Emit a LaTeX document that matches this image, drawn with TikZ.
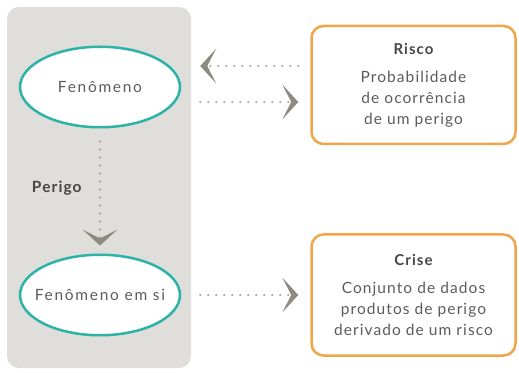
\documentclass[tikz,border=0pt]{standalone}
\usepackage{fontspec}
\setmainfont{Lato}[LetterSpace=7]
\newfontfamily\ovalfont{Lato}[LetterSpace=11]
\usetikzlibrary{arrows.meta,shapes.geometric}

\begin{document}
\begin{tikzpicture}[x=1pt, y=1pt,
    oval/.style={ellipse, draw=tab_teal, line width=2.5pt, fill=white,
        minimum width=160pt, minimum height=80.5pt, inner xsep=-30pt, inner ysep=0pt,
        font=\ovalfont\fontsize{15.5}{18}\selectfont, text=txt_gray},
    caixa/.style={draw=tab_orange, line width=2.5pt, fill=white,
        rounded corners=12pt, minimum width=204pt, minimum height=118pt,
        align=center, font=\fontsize{15.5}{21}\selectfont, text=txt_gray},
    titulo/.style={font=\fontsize{15.5}{21}\selectfont\bfseries, text=title_gray},
    pontos/.style={draw=dot_gray, line width=2.2pt, line cap=round,
        dash pattern=on 0pt off 8pt,
        -{Stealth[length=16pt, width=35pt, inset=9pt, color=tip_gray, line width=0pt]}},
]
    \definecolor{tab_teal}{HTML}{2BB3A8}
    \definecolor{tab_orange}{HTML}{F0A54A}
    \definecolor{panel_gray}{HTML}{DFDEDA}
    \definecolor{dot_gray}{HTML}{A19E96}
    \definecolor{tip_gray}{HTML}{8D8A80}
    \definecolor{txt_gray}{HTML}{5C5C5C}
    \definecolor{title_gray}{HTML}{474747}
    %\draw[help lines, step=20pt] (0,0) grid (519,372);

    \useasboundingbox (0,0) rectangle (519,372);
    \path[fill=panel_gray, rounded corners=12pt] (7,4) rectangle (191,365);

    \node[oval] (fenomeno) at (100,285) {Fenômeno};
    \node[oval] (fenomenoSi) at (100,77) {Fenômeno em si};

    \node[caixa] (risco) at (413.5,287) {
        {\color{title_gray}\bfseries\fontsize{15}{21}\selectfont Risco}\\[7pt]
        Probabilidade\\
        de ocorrência\\
        de um perigo
    };
    \node[caixa, minimum height=121pt] (crise) at (413.5,77) {
        {\color{title_gray}\bfseries\fontsize{15}{21}\selectfont Crise}\\[7pt]
        Conjunto de dados\\
        produtos de perigo\\
        derivado de um risco
    };

    \coordinate (riscoA) at ([yshift=19pt]risco.west);
    \coordinate (riscoB) at ([yshift=-17pt]risco.west);

    \draw[pontos, shorten <=12pt, shorten >=19pt] (riscoA) -- (riscoA -| fenomeno.east);
    \draw[pontos, shorten <=19pt, shorten >=12pt] (riscoB -| fenomeno.east) -- (riscoB);
    \draw[pontos, shorten <=19pt, shorten >=12pt] (fenomenoSi.east) -- (crise.west);
    \draw[pontos, shorten <=13pt, shorten >=8pt] (fenomeno.south) --
        node[titulo, pos=0.48, left=14pt] (perigo) {Perigo} (fenomenoSi.north);

\end{tikzpicture}
\end{document}
